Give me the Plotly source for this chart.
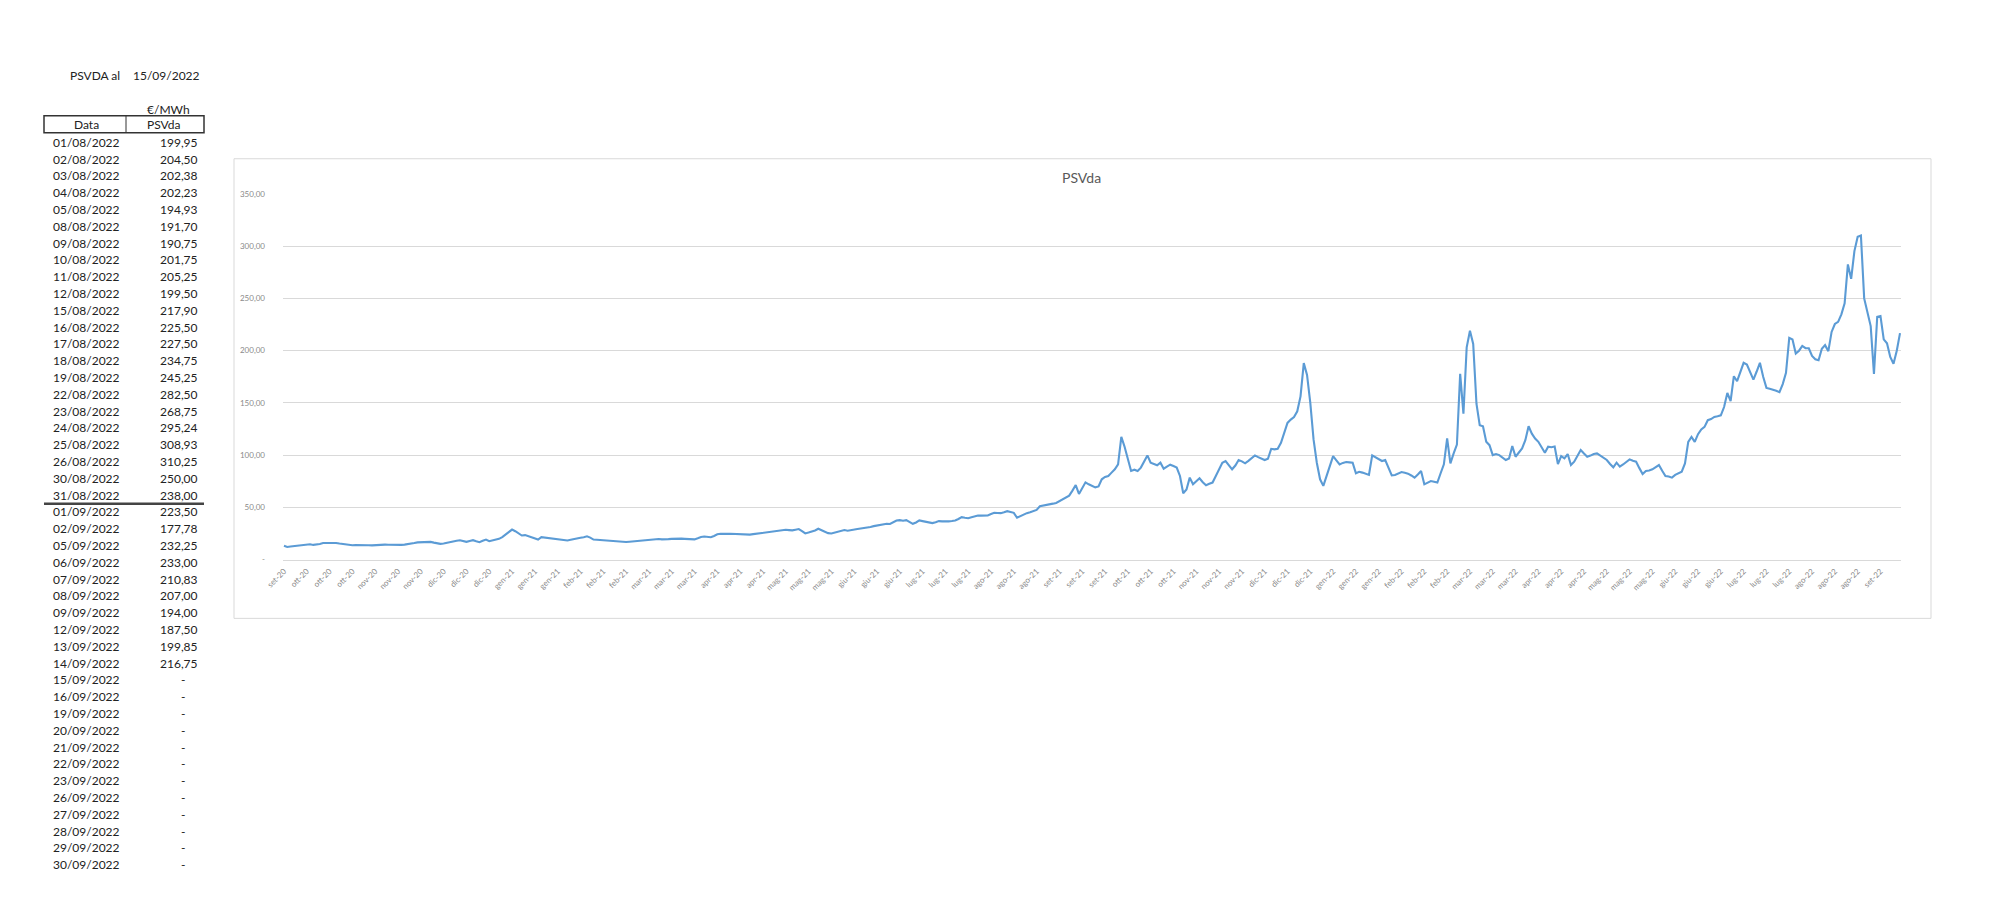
import pandas as pd
import plotly.graph_objects as go

# ---------------- data ----------------
uk_holidays = ["2020-12-25", "2020-12-28", "2021-01-01", "2021-04-02", "2021-04-05",
               "2021-05-03", "2021-05-31", "2021-08-30", "2021-12-27", "2021-12-28",
               "2022-01-03", "2022-04-15", "2022-04-18", "2022-05-02", "2022-06-02",
               "2022-06-03", "2022-08-29"]
start_date = "2020-09-25"
end_date = "2022-09-14"

sep20 = [13.2, 12.0, 12.5, 12.8]
oct20 = [13.0, 13.4, 14.0, 14.2, 14.6, 14.0, 14.3, 14.9, 15.8, 16.0, 15.6, 16.1, 15.9, 15.3, 14.8,
         14.3, 14.0, 13.7, 13.8, 13.6, 13.7, 13.5]
nov20 = [13.7, 13.6, 13.9, 14.0, 14.2, 14.3, 14.1, 13.9, 13.7, 13.8, 14.0, 14.3, 14.6, 15.2, 15.8,
         16.4, 16.6, 16.5, 16.8, 16.9, 16.2]
dec20 = [15.6, 15.0, 15.4, 16.2, 16.9, 17.5, 18.0, 18.5, 17.6, 16.9, 17.8, 18.5, 17.4, 16.6, 17.9,
         19.1, 17.5, 18.3, 19.1, 19.8, 21.5]
jan21 = [23.9, 27.0, 28.7, 27.1, 25.0, 23.0, 23.4, 22.3, 21.6, 20.7, 19.1, 21.4, 21.0, 20.5, 20.7,
         20.2, 19.8, 19.2, 18.6, 18.2]
feb21 = [18.9, 19.8, 20.4, 20.9, 21.4, 22.3, 21.0, 19.1, 18.9, 18.7, 18.5, 18.0, 17.6, 17.2, 17.0,
         17.3, 16.9, 16.8, 17.1, 17.4]
mar21 = [17.5, 17.9, 18.3, 18.5, 18.9, 19.4, 19.8, 19.6, 19.3, 19.1, 19.5, 19.8, 20.1, 20.4, 20.0,
         19.8, 19.8, 19.5, 19.3, 20.4, 21.6, 22.0, 21.5]
apr21 = [21.4, 22.6, 24.2, 24.7, 24.3, 24.6, 24.7, 24.5, 24.9, 24.4, 24.2, 24.1, 23.9, 24.3, 24.7,
         25.2, 26.0, 26.3, 26.5, 26.8]
may21 = [27.0, 27.4, 28.0, 28.5, 28.2, 27.9, 28.6, 29.2, 27.2, 25.0, 25.8, 26.6, 27.8, 29.5, 28.0,
         26.4, 25.3, 25.0, 25.8]
jun21 = [26.8, 27.9, 28.2, 27.6, 27.9, 28.5, 29.2, 29.8, 30.1, 30.4, 31.2, 32.0, 32.7, 33.3, 33.8,
         34.2, 34.0, 35.8, 37.4, 37.7, 37.2, 37.7]
jul21 = [36.0, 34.2, 35.5, 37.4, 36.8, 36.0, 35.2, 34.9, 35.8, 36.8, 36.5, 36.3, 36.5, 36.9, 37.4,
         38.8, 40.6, 40.0, 39.6, 40.5, 41.4, 42.2]
aug21 = [42.0, 42.3, 42.2, 43.5, 44.7, 44.5, 44.4, 45.2, 46.3, 45.5, 44.7, 40.0, 41.6, 43.1, 44.4,
         45.3, 46.3, 47.5, 51.0, 51.8, 52.3]
sep21 = [52.8, 53.5, 54.2, 55.8, 57.4, 59.0, 61.2, 66.0, 71.3, 62.8, 68.5, 73.9, 72.0, 70.5, 69.1,
         70.0, 76.8, 79.0, 80.0, 83.2, 86.4, 91.1]
oct21 = [117.5, 108.0, 96.0, 84.8, 86.0, 84.8, 88.0, 94.0, 99.7, 92.7, 91.5, 90.2, 92.7, 87.0, 89.0,
         90.8, 89.5, 88.0, 80.0, 63.5, 67.0]
nov21 = [78.4, 72.0, 75.0, 77.8, 74.0, 71.1, 72.5, 73.7, 80.0, 86.0, 92.7, 94.3, 90.5, 86.4, 90.0,
         95.3, 94.0, 92.1, 94.5, 97.0, 99.7, 98.0]
dec21 = [97.0, 95.3, 96.5, 106.0, 105.5, 106.0, 111.8, 122.0, 130.8, 134.0, 136.5, 141.9, 156.2,
         188.0, 176.8, 150.0, 115.0, 92.7, 76.8, 70.5, 80.0]
jan22 = [90.0, 99.0, 95.0, 91.1, 92.5, 93.3, 93.0, 92.7, 82.6, 84.0, 83.2, 82.0, 81.0, 99.7, 98.0,
         96.5, 94.3, 95.3, 88.0, 80.6]
feb22 = [81.0, 82.5, 83.8, 83.0, 82.2, 80.5, 78.4, 81.5, 84.8, 72.0, 73.5, 75.2, 74.5, 73.7, 82.6,
         91.1, 115.9, 92.0, 101.6, 110.0]
mar22 = [177.8, 139.7, 203.2, 219.0, 206.4, 149.2, 128.6, 127.6, 112.7, 109.5, 100.0, 101.0, 100.0,
         97.5, 95.3, 96.8, 108.6, 98.4, 102.5, 106.4, 114.3, 127.6, 120.5]
apr22 = [115.9, 112.7, 107.5, 102.2, 108.0, 107.5, 108.2, 91.4, 99.0, 96.8, 101.0, 90.5, 93.7, 99.0,
         104.8, 101.5, 98.4, 99.5, 101.0]
may22 = [101.6, 99.5, 97.0, 95.3, 91.5, 88.3, 92.7, 88.9, 91.0, 93.5, 95.9, 94.5, 93.7, 87.5, 81.9,
         84.8, 85.2, 86.4, 88.5, 90.5, 85.0]
jun22 = [80.0, 79.5, 78.4, 81.0, 82.6, 84.1, 92.0, 112.7, 117.5, 112.7, 120.0, 124.5, 127.0, 133.4,
         134.5, 136.5, 137.2, 138.1, 146.0, 159.5]
jul22 = [151.6, 175.5, 170.7, 180.0, 188.3, 186.7, 179.0, 172.3, 180.0, 188.3, 175.0, 164.3, 163.5,
         162.7, 161.5, 160.2, 168.0, 178.7, 212.2, 210.6, 197.2]
aug22 = [199.95, 204.50, 202.38, 202.23, 194.93, 191.70, 190.75, 201.75, 205.25, 199.50, 217.90,
         225.50, 227.50, 234.75, 245.25, 282.50, 268.75, 295.24, 308.93, 310.25, 250.00, 238.00]
sep22 = [223.50, 177.78, 232.25, 233.00, 210.83, 207.00, 194.00, 187.50, 199.85, 216.75]

table_dates = ["01/08/2022", "02/08/2022", "03/08/2022", "04/08/2022", "05/08/2022", "08/08/2022",
               "09/08/2022", "10/08/2022", "11/08/2022", "12/08/2022", "15/08/2022", "16/08/2022",
               "17/08/2022", "18/08/2022", "19/08/2022", "22/08/2022", "23/08/2022", "24/08/2022",
               "25/08/2022", "26/08/2022", "30/08/2022", "31/08/2022",
               "01/09/2022", "02/09/2022", "05/09/2022", "06/09/2022", "07/09/2022", "08/09/2022",
               "09/09/2022", "12/09/2022", "13/09/2022", "14/09/2022", "15/09/2022", "16/09/2022",
               "19/09/2022", "20/09/2022", "21/09/2022", "22/09/2022", "23/09/2022", "26/09/2022",
               "27/09/2022", "28/09/2022", "29/09/2022", "30/09/2022"]
table_values = aug22 + sep22

y_ticks = [0, 50, 100, 150, 200, 250, 300, 350]
mesi = ["gen", "feb", "mar", "apr", "mag", "giu", "lug", "ago", "set", "ott", "nov", "dic"]

# ---------------- build ----------------
values = (sep20 + oct20 + nov20 + dec20 + jan21 + feb21 + mar21 + apr21 + may21 + jun21 + jul21
          + aug21 + sep21 + oct21 + nov21 + dec21 + jan22 + feb22 + mar22 + apr22 + may22 + jun22
          + jul22 + aug22 + sep22)
dates = pd.bdate_range(start_date, end_date, freq="C", holidays=uk_holidays)
n = min(len(dates), len(values))
dates = dates[:n]
values = values[:n]
cats = [d.strftime("%Y-%m-%d") for d in dates]
tick_idx = list(range(0, n, 7))
tickvals = [cats[i] for i in tick_idx]
ticktext = [f"{mesi[dates[i].month - 1]}-{dates[i].year % 100:02d}" for i in tick_idx]

def fmt_it(v):
    return f"{v:,.2f}".replace(",", "X").replace(".", ",").replace("X", ".")

W, H = 2000, 912
# layout positions given in target pixels, mapped to paper fractions
SX, OX, SY, OY = 0.991, 17.0, 0.992, 3.8
def px(x):
    return ((x - OX) / SX) / W
def py(y):
    return 1 - ((y - OY) / SY) / H

fig = go.Figure()
fig.add_trace(go.Scatter(x=cats, y=values, mode="lines", name="PSVda",
                         line=dict(color="#5B9BD5", width=2.1)))

grey = "#8a8a8a"
fig.update_layout(
    autosize=True, margin=dict(l=0, r=0, t=0, b=0, pad=0),
    paper_bgcolor="white", plot_bgcolor="white", showlegend=False,
    font=dict(family="Lato, Liberation Sans, sans-serif", color="#222"),
    xaxis=dict(type="category", domain=[px(282), px(1900)], range=[-0.3, n - 0.7],
               tickmode="array", tickvals=tickvals, ticktext=ticktext, tickangle=-45,
               tickfont=dict(size=8, color=grey), showgrid=False, showline=True,
               linecolor="#d9d9d9", linewidth=1, ticks="", ticklabelstandoff=3),
    yaxis=dict(domain=[py(560), py(193.3)], range=[0, 350], tickmode="array",
               tickvals=y_ticks, ticktext=["-"] + [fmt_it(v) for v in y_ticks[1:]],
               tickfont=dict(size=8, color=grey), showgrid=True, gridcolor="#d9d9d9",
               gridwidth=1, zeroline=False, showline=False, ticks="", ticklabelstandoff=17),
)

shapes = []
annotations = []

def add_text(text, x, y, xanchor="center", font=None):
    annotations.append(dict(text=text, x=px(x), y=py(y), xref="paper", yref="paper",
                            xanchor=xanchor, yanchor="middle", showarrow=False,
                            font=font, borderpad=0))

# chart area border
shapes.append(dict(type="rect", xref="paper", yref="paper", x0=px(233), x1=px(1930),
                   y0=py(619), y1=py(158), line=dict(color="#d9d9d9", width=1)))
add_text("PSVda", 1080, 177, font=dict(size=14, color="#595959"))

# left table
tf = dict(size=12, color="#222")
add_text("PSVDA al", 120, 75, "right", tf)
add_text("15/09/2022", 200, 75, "right", tf)
add_text("€/MWh", 190, 109, "right", tf)
shapes.append(dict(type="rect", xref="paper", yref="paper", x0=px(43), x1=px(203),
                   y0=py(132), y1=py(115), line=dict(color="#333", width=1.5)))
shapes.append(dict(type="line", xref="paper", yref="paper", x0=px(125), x1=px(125),
                   y0=py(132), y1=py(115), line=dict(color="#333", width=1)))
add_text("Data", 85, 124, "center", tf)
add_text("PSVda", 163, 124, "center", tf)
row0, pitch = 141.5, 16.85
for k, d in enumerate(table_dates):
    yy = row0 + k * pitch
    add_text(d, 85, yy, "center", tf)
    if k < len(table_values):
        add_text(fmt_it(table_values[k]), 198, yy, "right", tf)
    else:
        add_text("-", 185, yy, "right", tf)
shapes.append(dict(type="line", xref="paper", yref="paper", x0=px(43), x1=px(203),
                   y0=py(504), y1=py(504), line=dict(color="#444", width=2.5)))

fig.update_layout(shapes=shapes, annotations=annotations)

post = ("document.documentElement.style.margin='0';document.body.style.margin='0';"
        "document.documentElement.style.overflow='hidden';document.body.style.overflow='hidden';"
        "var gd=document.getElementById('{plot_id}');"
        "gd.style.width=window.innerWidth+'px';gd.style.height=window.innerHeight+'px';"
        "Plotly.Plots.resize(gd);")
fig.write_html("out.html", config={"displayModeBar": False, "responsive": True},
               default_width="100vw", default_height="100vh", post_script=post)
